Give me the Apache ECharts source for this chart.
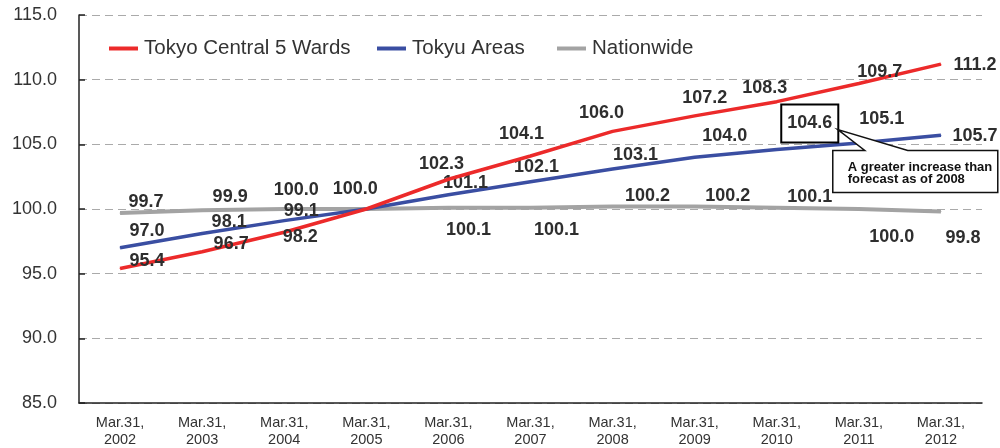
<!DOCTYPE html>
<html>
<head>
<meta charset="utf-8">
<script src="https://cdn.jsdelivr.net/npm/echarts@6/dist/echarts.min.js"></script>
<style>html,body{margin:0;padding:0;background:#fff}#c{width:1000px;height:448px}</style>
</head>
<body>
<div id="c"></div>
<script>
// ---- data ----
var categories = ['Mar.31,\n2002','Mar.31,\n2003','Mar.31,\n2004','Mar.31,\n2005','Mar.31,\n2006','Mar.31,\n2007','Mar.31,\n2008','Mar.31,\n2009','Mar.31,\n2010','Mar.31,\n2011','Mar.31,\n2012'];
var tokyoCentral = [95.4, 96.7, 98.2, 100.0, 102.3, 104.1, 106.0, 107.2, 108.3, 109.7, 111.2];
var tokyuAreas   = [97.0, 98.1, 99.1, 100.0, 101.1, 102.1, 103.1, 104.0, 104.6, 105.1, 105.7];
var nationwide   = [99.7, 99.9, 100.0, 100.0, 100.1, 100.1, 100.2, 100.2, 100.1, 100.0, 99.8];
var seriesNames  = ['Tokyo Central 5 Wards', 'Tokyu Areas', 'Nationwide'];
var yTicks = [85, 90, 95, 100, 105, 110, 115];
var calloutText = 'A greater increase than\nforecast as of 2008';
var calloutIndex = 8; // Tokyu Areas, Mar.31, 2010

// ---- label layout (pixel offsets from each point; null = no label) ----
var redOff  = [[27,-7],[29,-8],[16,5],null,[-7,-15],[-9,-22],[-11,-18],[10,-18],[-12,-14],[21,-12],[34,1]];
var blueOff = [[27,-17],[27,-12],[17,-10],null,[17,-12],[6,-15],[23,-14],[30,-21],[33,-26],[23,-24],[34,1]];
var grayOff = [[26,-11],[28,-13],[12,-19],[-11,-20],[20,22],[26,22],[35,-10],[33,-10],[33,-11],[33,28],[22,26]];
var legendLefts = [109, 377, 557];

var FONT = 'Liberation Sans, Arial, sans-serif';
var labelBase = {fontFamily: FONT, fontWeight: 'bold', fontSize: 18, color: '#2e2e2e'};

function buildData(values, offs, boxIndex) {
  return values.map(function (v, i) {
    var o = offs[i];
    var item = {value: v};
    if (!o) {
      item.label = {show: false};
    } else {
      var lab = Object.assign({show: true, position: 'inside', align: 'center', verticalAlign: 'middle', offset: o,
        formatter: function (p) { return p.value.toFixed(1); }}, labelBase);
      if (i === boxIndex) {
        lab.borderColor = '#000'; lab.borderWidth = 2; lab.padding = [9, 5, 9, 5]; lab.backgroundColor = '#fff';
      }
      item.label = lab;
    }
    return item;
  });
}

function lineSeries(name, values, offs, color, width, boxIndex, z) {
  return {
    name: name, type: 'line', data: buildData(values, offs, boxIndex),
    symbol: 'circle', symbolSize: 1, showSymbol: true, z: z,
    lineStyle: {color: color, width: width}, itemStyle: {color: color},
    emphasis: {disabled: true}, silent: true
  };
}

var legends = seriesNames.map(function (n, i) {
  return {
    left: legendLefts[i], top: 38, padding: 0, icon: 'rect', itemWidth: 29, itemHeight: 4, itemGap: 0,
    textStyle: {fontFamily: FONT, fontSize: 20.5, color: '#333', padding: [0, 0, 0, 1]},
    data: [n]
  };
});

var chart = echarts.init(document.getElementById('c'), null, {renderer: 'canvas'});
chart.setOption({
  animation: false,
  grid: {left: 79, right: 18, top: 15, bottom: 44, containLabel: false},
  legend: legends,
  xAxis: {
    type: 'category', data: categories, boundaryGap: true,
    axisLine: {lineStyle: {color: '#222', width: 1.5}},
    axisTick: {inside: true, length: 4, lineStyle: {color: '#222', width: 1.5}},
    axisLabel: {fontFamily: FONT, fontSize: 14.5, lineHeight: 17, color: '#333', margin: 11, interval: 0}
  },
  yAxis: {
    type: 'value', min: yTicks[0], max: yTicks[yTicks.length-1], interval: 5,
    axisLine: {show: true, lineStyle: {color: '#222', width: 1.5}},
    axisTick: {show: true, inside: true, length: 6, lineStyle: {color: '#222', width: 1.5}},
    axisLabel: {fontFamily: FONT, fontSize: 18, color: '#333', margin: 22,
      formatter: function (v) { return v.toFixed(1); }},
    splitLine: {show: true, lineStyle: {color: '#aaa', type: [8, 5], width: 1}}
  },
  series: [
    lineSeries(seriesNames[2], nationwide, grayOff, '#a3a3a3', 4, -1, 2),
    lineSeries(seriesNames[1], tokyuAreas, blueOff, '#3a4ea2', 3.5, calloutIndex, 3),
    lineSeries(seriesNames[0], tokyoCentral, redOff, '#ec2a2a', 3.5, -1, 4)
  ]
});

// callout anchored to the boxed point
var p = chart.convertToPixel({seriesIndex: 1}, [calloutIndex, tokyuAreas[calloutIndex]]);
var bx = p[0] + 56, by = p[1] + 1, bw = 165, bh = 42;
chart.setOption({
  graphic: [
    {type: 'polygon', z: 100, shape: {points: [
      [bx, by], [p[0] + 88, by], [p[0] + 61, p[1] - 20], [p[0] + 131, by],
      [bx + bw, by], [bx + bw, by + bh], [bx, by + bh]
    ]}, style: {fill: '#fff', stroke: '#111', lineWidth: 1.5}},
    {type: 'text', z: 101, left: bx + 15, top: by + 10, style: {
      text: calloutText, font: 'bold 13px "Liberation Sans", Arial, sans-serif', fill: '#111', lineHeight: 12.5
    }}
  ]
});
</script>
</body>
</html>
